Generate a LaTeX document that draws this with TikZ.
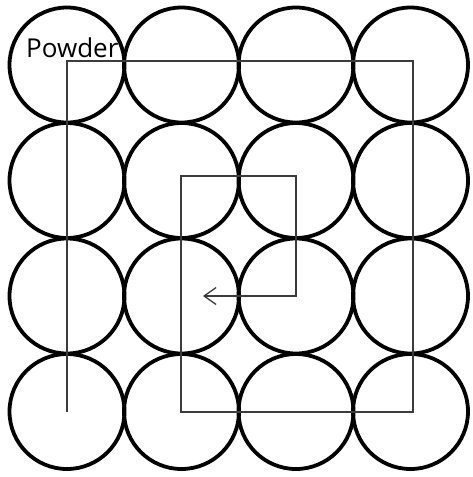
\documentclass[tikz,border=0pt]{standalone}
\usepackage{fontspec}
\newfontfamily\labelfont{Open Sans}
\usetikzlibrary{arrows.meta}
\definecolor{route}{HTML}{3C3C3C}
\tikzset{
  grain/.style={circle, draw=black, line width=3.8pt, minimum size=115pt, inner sep=0pt},
  scanline/.style={draw=route, line width=1.3pt}
}

\begin{document}
\begin{tikzpicture}[x=1pt,y=-1pt]
  \useasboundingbox (0,0) rectangle (473,477);
  % Powder grid
  \foreach \i in {1,...,4}
    \foreach \j in {1,...,4}
      \node[grain] (c\i\j) at ({67+114.5*(\i-1)},{65+115.5*(\j-1)}) {};
  % Route corners
  \foreach \n/\x/\y in {r1/67/412, r2/67/61, r3/413/61, r4/413/412,
                        r5/181/412, r6/181/176, r7/296/176, r8/296/296, r9/203/296}
    \coordinate (\n) at (\x,\y);
  % Spiral route
  \draw[scanline, -{Straight Barb[length=12pt, width=17pt, line width=1.3pt]}]
    (r1) -- (r2) -- (r3) -- (r4) -- (r5) -- (r6) -- (r7) -- (r8) -- (r9);
  \node[anchor=base west, inner sep=0pt, font=\labelfont\fontsize{26}{30}\selectfont] (powder) at (26,57) {Powder};
\end{tikzpicture}
\end{document}
